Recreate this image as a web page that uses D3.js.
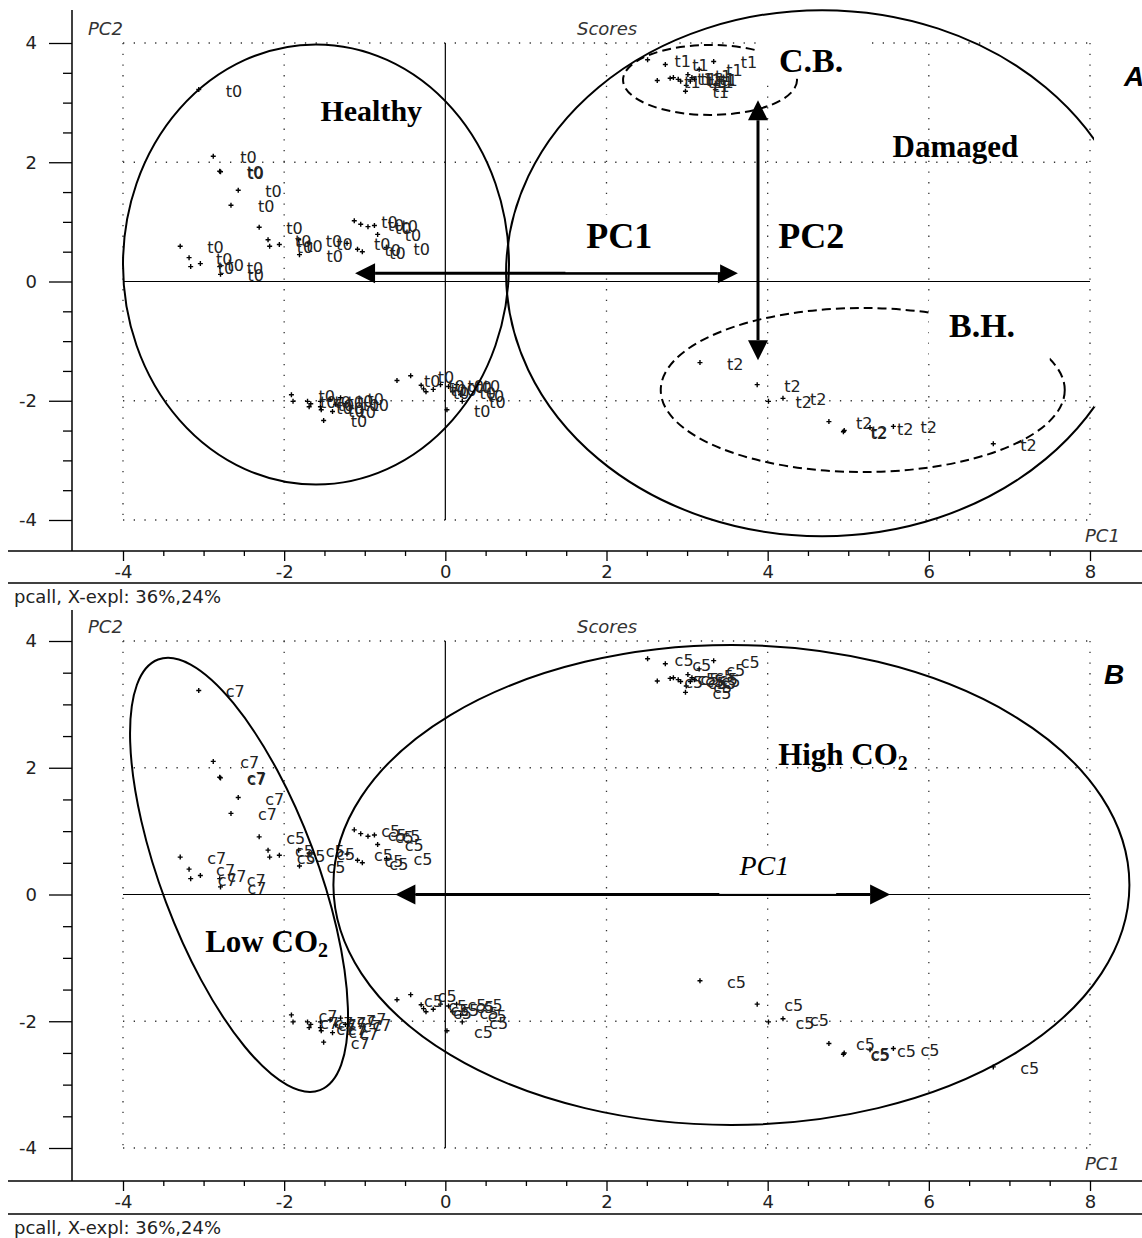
<!DOCTYPE html>
<html><head><meta charset="utf-8">
<script src="https://cdn.jsdelivr.net/npm/d3@7"></script>
<style>body{margin:0;background:#fff}svg{display:block}</style>
</head><body>
<svg id="c" width="1142" height="1238"></svg>
<script>
// ---- data (scores, PC1 / PC2) ----
const pc1 = [-3.06,-2.88,-2.80,-2.79,-2.57,-2.66,-2.31,-2.20,-2.18,-2.06,-3.29,-3.18,-3.16,-3.04,-2.80,-2.79,
  -1.82,-1.81,-1.69,-1.22,-1.13,-1.05,-0.96,-0.88,-0.84,-1.09,-1.03,-0.73,
  -1.91,-1.89,-1.71,-1.67,-1.69,-1.55,-1.55,-1.54,-1.51,-1.43,-1.36,-1.30,-1.24,-1.40,
  -0.60,-0.43,-0.30,-0.27,-0.24,-0.15,0.02,-0.06,0.04,0.09,0.14,0.19,0.21,
  2.51,2.73,2.63,2.79,2.83,2.89,2.92,2.98,3.15,3.33,3.01,3.06,3.04,3.09,2.99,
  3.16,3.87,4.01,4.19,4.76,4.94,4.95,5.27,5.56,6.80];
const pc2 = [3.22,2.10,1.85,1.84,1.53,1.28,0.91,0.70,0.59,0.62,0.59,0.40,0.25,0.30,0.25,0.12,
  0.70,0.45,0.65,0.64,1.02,0.96,0.92,0.94,0.79,0.54,0.50,0.57,
  -1.90,-2.01,-2.01,-2.05,-2.10,-2.01,-2.10,-2.15,-2.33,-1.98,-2.06,-1.95,-2.05,-2.18,
  -1.66,-1.58,-1.74,-1.80,-1.85,-1.81,-2.15,-1.73,-1.76,-1.85,-1.73,-1.90,-2.01,
  3.72,3.64,3.37,3.41,3.42,3.39,3.36,3.19,3.56,3.69,3.47,3.42,3.36,3.39,3.29,
  -1.36,-1.73,-2.01,-1.96,-2.35,-2.52,-2.50,-2.45,-2.43,-2.72];
const labelsA = [...Array(55).fill("t0"), ...Array(15).fill("t1"), ...Array(10).fill("t2")];
const labelsB = [...Array(6).fill("c7"), ...Array(4).fill("c5"), ...Array(6).fill("c7"),
  ...Array(12).fill("c5"), ...Array(14).fill("c7"), ...Array(13).fill("c5"),
  ...Array(15).fill("c5"), ...Array(10).fill("c5")];
const xTicks = [-4,-2,0,2,4,6,8];
const yTicks = [-4,-2,0,2,4];
const footnote = "pcall, X-expl: 36%,24%";

// ---- layout ----
const svg = d3.select("#c");
const X0 = 123, X1 = 1090;
const panels = [
  {top:43, bottom:520, axisY:551, axisTop:10, sepY:583, footY:603, labels:labelsA, tag:"A", tagX:1124, tagY:86},
  {top:641, bottom:1148, axisY:1181, axisTop:610, sepY:1214, footY:1234, labels:labelsB, tag:"B", tagX:1104, tagY:684}
];
const minorX = d3.range(-4, 8.01, 0.5).filter(v => v % 2 !== 0);
const minorY = d3.range(-4, 4.01, 0.5).filter(v => v % 2 !== 0);
const FONT = "'DejaVu Sans', Arial, sans-serif";
const SERIF = "'Liberation Serif', 'Times New Roman', serif";

panels.forEach((p, i) => {
  const x = d3.scaleLinear().domain([-4, 8]).range([X0, X1]);
  const y = d3.scaleLinear().domain([-4, 4]).range([p.bottom, p.top]);
  p.x = x; p.y = y;
  const g = svg.append("g");

  // dotted grid
  const grid = g.append("g").attr("stroke", "#333").attr("stroke-width", 1.3).attr("stroke-dasharray", "1.3,9.4");
  xTicks.filter(v => v !== 0).forEach(v => grid.append("line").attr("x1", x(v)).attr("x2", x(v)).attr("y1", y(4)).attr("y2", y(-4)));
  yTicks.filter(v => v !== 0).forEach(v => grid.append("line").attr("y1", y(v)).attr("y2", y(v)).attr("x1", x(-4)).attr("x2", x(8)));
  // origin lines
  g.append("line").attr("x1", x(0)).attr("x2", x(0)).attr("y1", y(4)).attr("y2", y(-4)).attr("stroke", "#000").attr("stroke-width", 1.2);
  g.append("line").attr("x1", x(-4)).attr("x2", x(8)).attr("y1", y(0)).attr("y2", y(0)).attr("stroke", "#000").attr("stroke-width", 1.2);

  // axes frame lines
  g.append("line").attr("x1", 72).attr("x2", 72).attr("y1", p.axisTop).attr("y2", p.axisY).attr("stroke", "#000").attr("stroke-width", 1.5);
  g.append("line").attr("x1", 8).attr("x2", 1142).attr("y1", p.axisY).attr("y2", p.axisY).attr("stroke", "#000").attr("stroke-width", 1.5);
  g.append("line").attr("x1", 8).attr("x2", 1142).attr("y1", p.sepY).attr("y2", p.sepY).attr("stroke", "#000").attr("stroke-width", 1.5);

  // x axis ticks
  g.append("g").attr("transform", `translate(0,${p.axisY})`)
    .call(d3.axisBottom(x).tickValues(xTicks).tickSize(10).tickPadding(4).tickFormat(d => String(d)));
  g.append("g").attr("transform", `translate(0,${p.axisY})`)
    .call(d3.axisBottom(x).tickValues(minorX).tickSize(5).tickFormat(""));
  // y axis ticks
  g.append("g").attr("transform", "translate(72,0)")
    .call(d3.axisLeft(y).tickValues(yTicks).tickSize(23).tickPadding(12).tickFormat(d => String(d)));
  g.append("g").attr("transform", "translate(72,0)")
    .call(d3.axisLeft(y).tickValues(minorY).tickSize(9).tickFormat(""));
  g.selectAll(".domain").remove();
  g.selectAll(".tick line").attr("stroke", "#000").attr("stroke-width", 1.3);
  g.selectAll(".tick text").attr("font-family", FONT).attr("font-size", 18).attr("fill", "#222");

  // panel texts
  g.append("text").attr("x", 88).attr("y", p.top - 8).text("PC2")
    .attr("font-family", FONT).attr("font-style", "italic").attr("font-size", 18).attr("fill", "#333");
  g.append("text").attr("x", 577).attr("y", p.top - 8).text("Scores")
    .attr("font-family", FONT).attr("font-style", "italic").attr("font-size", 18).attr("fill", "#333");
  g.append("text").attr("x", 1085).attr("y", p.bottom + 22).text("PC1")
    .attr("font-family", FONT).attr("font-style", "italic").attr("font-size", 18).attr("fill", "#333");
  g.append("text").attr("x", 14).attr("y", p.footY).text(footnote)
    .attr("font-family", FONT).attr("font-size", 18).attr("fill", "#222");

  // points
  const pts = pc1.map((v, k) => ({x: v, y: pc2[k], lab: p.labels[k]}));
  g.append("g").selectAll("path").data(pts).join("path")
    .attr("d", d => `M${x(d.x)-2.5},${y(d.y)}h5M${x(d.x)},${y(d.y)-2.5}v5`)
    .attr("stroke", "#000").attr("stroke-width", 1.4);
  g.append("g").selectAll("text").data(pts).join("text")
    .attr("x", d => x(d.x) + 27).attr("y", d => y(d.y) + 7).text(d => d.lab)
    .attr("font-family", FONT).attr("font-size", 16).attr("fill", "#222");
});

// ---- annotations ----
const A = panels[0], B = panels[1];
function ellipse(p, cx, cy, rx, ry, rot, dashed) {
  svg.append("ellipse").attr("cx", 0).attr("cy", 0).attr("rx", rx).attr("ry", ry)
    .attr("transform", `translate(${p.x(cx)},${p.y(cy)}) rotate(${rot})`)
    .attr("fill", "none").attr("stroke", "#000").attr("stroke-width", 2)
    .attr("stroke-dasharray", dashed ? "9,5" : null);
}
function arrow(p, x1, y1, x2, y2) {
  const a = [p.x(x1), p.y(y1)], b = [p.x(x2), p.y(y2)];
  const dx = b[0]-a[0], dy = b[1]-a[1], L = Math.hypot(dx, dy), ux = dx/L, uy = dy/L;
  const hl = 20, hw = 10;
  svg.append("line").attr("x1", a[0]+ux*hl).attr("y1", a[1]+uy*hl).attr("x2", b[0]-ux*hl).attr("y2", b[1]-uy*hl)
    .attr("stroke", "#000").attr("stroke-width", 3);
  [[a, -1], [b, 1]].forEach(([t, s]) => {
    const bx = t[0]-s*ux*hl, by = t[1]-s*uy*hl;
    svg.append("path").attr("d", `M${t[0]},${t[1]}L${bx-uy*hw},${by+ux*hw}L${bx+uy*hw},${by-ux*hw}Z`).attr("fill", "#000");
  });
}
// white text-box backgrounds (in data coords of the panel)
function box(p, x1, y1, x2, y2) {
  svg.append("rect").attr("x", p.x(x1)).attr("y", p.y(y1)).attr("width", p.x(x2) - p.x(x1)).attr("height", p.y(y2) - p.y(y1))
    .attr("fill", "#fff");
}
function label(p, x, y, txt, size, italic, bold) {
  return svg.append("text").attr("x", p.x(x)).attr("y", p.y(y)).attr("font-family", SERIF)
    .attr("font-size", size).attr("font-weight", bold ? "bold" : "normal").attr("font-style", italic ? "italic" : "normal")
    .attr("fill", "#000").text(txt);
}

// panel A
ellipse(A, -1.605, 0.285, 193, 220, 0, false);
ellipse(A, 4.675, 0.14, 316, 263, 0, false);
ellipse(A, 3.285, 3.38, 87, 35, 0, true);
ellipse(A, 5.18, -1.82, 202, 82, 0, true);
arrow(A, -1.12, 0.14, 3.63, 0.14);
arrow(A, 3.88, 3.04, 3.88, -1.32);
box(A, 1.49, 1.12, 3.41, 0.157);
box(A, 3.87, 4.2, 5.2, 3.4);
box(A, 6.0, -0.3, 7.5, -1.33);
box(A, 8.05, 3.75, 8.7, -2.1);
label(A, -1.55, 2.7, "Healthy", 30, false, true);
label(A, 5.55, 2.08, "Damaged", 31, false, true);
label(A, 1.75, 0.57, "PC1", 36, false, true);
label(A, 4.13, 0.57, "PC2", 36, false, true);
label(A, 4.14, 3.52, "C.B.", 34, false, true);
label(A, 6.25, -0.93, "B.H.", 34, false, true);
svg.append("text").attr("x", A.tagX).attr("y", A.tagY).attr("font-family", "'Liberation Sans', Arial, sans-serif")
  .attr("font-size", 28).attr("font-weight", "bold").attr("font-style", "italic").text(A.tag);

// panel B
ellipse(B, -2.56, 0.31, 230, 78, 69.4, false);
ellipse(B, 3.55, 0.15, 398, 240, 0, false);
arrow(B, -0.62, 0, 5.52, 0);
box(B, 3.4, 0.75, 4.85, 0.01);
const hi = label(B, 4.13, 2.05, "High CO", 31, false, true);
hi.append("tspan").attr("font-size", 20).attr("dy", 5).text("2");
const lo = label(B, -2.98, -0.9, "Low CO", 31, false, true);
lo.append("tspan").attr("font-size", 20).attr("dy", 5).text("2");
label(B, 3.65, 0.3, "PC1", 28, true, false);
svg.append("text").attr("x", B.tagX).attr("y", B.tagY).attr("font-family", "'Liberation Sans', Arial, sans-serif")
  .attr("font-size", 28).attr("font-weight", "bold").attr("font-style", "italic").text(B.tag);
</script>
</body></html>
